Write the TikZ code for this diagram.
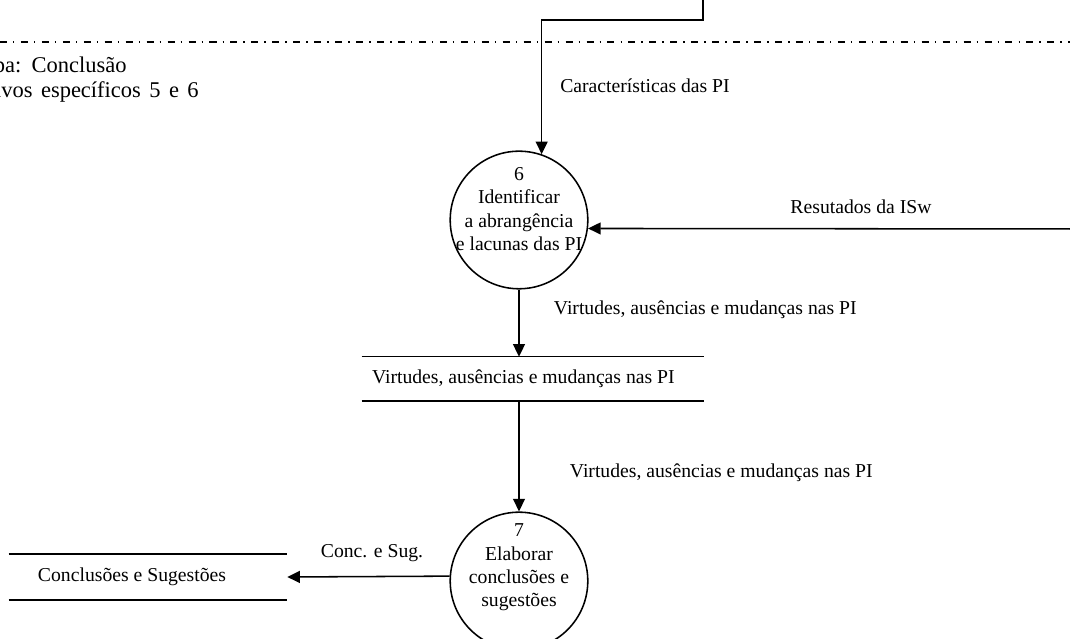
\documentclass[tikz,border=0pt]{standalone}
\usepackage{fontspec}
\setmainfont{Liberation Serif}
\newfontfamily\titlefamily[WordSpace=1.5]{Liberation Serif}
\usetikzlibrary{arrows.meta}

\begin{document}
\begin{tikzpicture}[scale=1.0,
    font=\fontsize{14pt}{16.5pt}\selectfont,
    line/.style={line width=1.1pt},
    flow/.style={line width=1.1pt, -{Triangle[length=9pt,width=8.5pt]}},
    process/.style={circle, draw, line width=1.1pt, minimum size=3.44cm, inner sep=0pt},
    proctext/.style={align=center},
    store/.style={align=flush left, inner ysep=0pt},
    title/.style={anchor=base east, inner sep=0pt, font=\titlefamily\fontsize{16pt}{18pt}\selectfont}]
  \clip (0,0) rectangle (26.75,15.975);
  % boundary of the stage
  \draw[line width=0.9pt, dash pattern=on 5pt off 4.3pt on 1pt off 4.6pt] (0,14.925) -- (26.75,14.925);
  \node[title] (etapa) at (3.17,14.158) {Etapa: Conclusão};
  \node[title] (objet) at (4.975,13.525) {Objetivos específicos 5 e 6};
  % processes
  \node[process, label={[proctext, yshift=0.275cm]center:{6\\Identificar\\a abrangência\\e lacunas das PI}}] (p6) at (12.975,10.475) {};
  \node[process, label={[proctext, yshift=0.34cm]center:{7\\Elaborar\\conclusões e\\sugestões}}] (p7) at (12.975,1.45) {};
  % data stores
  \node[store, text width=8.05cm, inner xsep=0.25cm, minimum height=1.1cm] (st1) at (13.325,6.5) {Virtudes, ausências e mudanças nas PI};
  \node[store, text width=5.5cm, inner xsep=0.725cm, minimum height=1.125cm] (st2) at (3.7,1.55) {Conclusões e Sugestões};
  \draw[line] (st1.north west) -- (st1.north east);
  \draw[line] (st1.south west) -- (st1.south east);
  \draw[line] (st2.north west) -- (st2.north east);
  \draw[line] (st2.south west) -- (st2.south east);
  % flows
  \coordinate (src) at (17.575,16.2);
  \coordinate (isw) at (27.0,10.25);
  \draw[flow] (src) -- ++(0,-0.725) -| (p6.71.35);
  \draw[flow] (isw) -- (p6.-7.52);
  \draw[flow] (p6.south) -- (p6.south |- st1.north);
  \draw[flow] (st1.south -| p6.south) -- (p7.north);
  \draw[flow] (p7.176.7) -- (st2.east);
  % flow labels
  \node (lcar) at (16.125,13.825) {Características das PI};
  \node (lres) at (21.525,10.8) {Resutados da ISw};
  \node[anchor=west] (lvir1) at (13.725,8.225) {Virtudes, ausências e mudanças nas PI};
  \node[anchor=west] (lvir2) at (14.125,4.15) {Virtudes, ausências e mudanças nas PI};
  \node (lconc) at (9.3,2.15) {Conc. e Sug.};
\end{tikzpicture}
\end{document}
